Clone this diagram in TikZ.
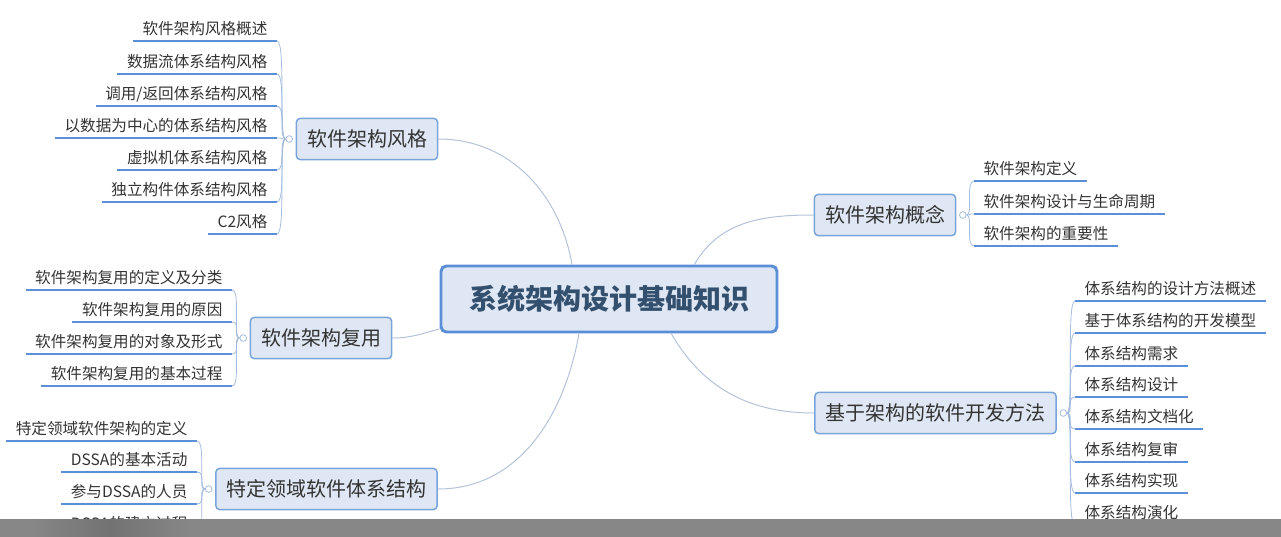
\documentclass[tikz,border=0pt]{standalone}
\usepackage{fontspec}
\setmainfont{Noto Sans CJK SC}
\usetikzlibrary{positioning}

\definecolor{boxfill}{HTML}{DEE7F3}
\definecolor{boxline}{HTML}{79A3DB}
\definecolor{rootline}{HTML}{5A8ED6}
\definecolor{ulinecol}{HTML}{5B8FD8}
\definecolor{twigcol}{HTML}{A5BCDD}
\definecolor{limbcol}{HTML}{B3C3DA}
\definecolor{inkcol}{HTML}{333333}
\definecolor{rootink}{HTML}{34506F}
\definecolor{barcol}{HTML}{878787}
\definecolor{bardark}{HTML}{737373}

\begin{document}
\begin{tikzpicture}[x=0.75pt,y=-0.75pt,
root/.style={draw=rootline,line width=2.2pt,fill=boxfill,rounded corners=4pt,text=rootink,font=\fontsize{21}{25}\selectfont\bfseries,minimum width=252pt,minimum height=49.5pt},
box/.style={draw=boxline,line width=1.1pt,fill=boxfill,rounded corners=3pt,text=inkcol,font=\fontsize{15}{18}\selectfont,inner xsep=8pt,minimum height=31pt},
knob/.style={circle,draw=twigcol,fill=white,line width=0.6pt,inner sep=0pt,minimum size=5pt},
uline/.style={draw=ulinecol,line width=2pt},
leaf/.style={text=inkcol,font=\fontsize{11.7}{14}\selectfont,inner xsep=7pt,inner ysep=3.5pt,text height=0.85em,text depth=0.15em,
  append after command={(\tikzlastnode.south west) edge[uline] (\tikzlastnode.south east)}},
leafl/.style={leaf,anchor=south east},leafr/.style={leaf,anchor=south west},
twig/.style={draw=twigcol,line width=0.6pt},limb/.style={draw=limbcol,line width=0.75pt}]
\useasboundingbox (0,0) rectangle (1281,536);
\node[root] (root) at (609,299) {系统架构设计基础知识};
\node[box] (style) at (367,139) {软件架构风格};
\node[box] (reuse) at (321,338) {软件架构复用};
\node[box] (dssa) at (326.5,489) {特定领域软件体系结构};
\node[box] (concept) at (885,215) {软件架构概念};
\node[box] (method) at (935.5,413) {基于架构的软件开发方法};
\node[knob,left=2pt of style] (styleknob) {};
\node[knob,left=2pt of reuse] (reuseknob) {};
\node[knob,left=2pt of dssa] (dssaknob) {};
\node[knob,right=2pt of concept] (conceptknob) {};
\node[knob,right=2pt of method] (methodknob) {};
% left side leaves
\node[leafl] (s1) at (277,41) {软件架构风格概述};
\node[leafl] (s2) at (277,74) {数据流体系结构风格};
\node[leafl] (s3) at (277,106) {调用/返回体系结构风格};
\node[leafl] (s4) at (277,138) {以数据为中心的体系结构风格};
\node[leafl] (s5) at (277,170) {虚拟机体系结构风格};
\node[leafl] (s6) at (277,202) {独立构件体系结构风格};
\node[leafl] (s7) at (277,234) {C2风格};
\node[leafl] (r1) at (232,290) {软件架构复用的定义及分类};
\node[leafl] (r2) at (232,322) {软件架构复用的原因};
\node[leafl] (r3) at (232,354) {软件架构复用的对象及形式};
\node[leafl] (r4) at (232,386) {软件架构复用的基本过程};
\node[leafl] (d1) at (197,441) {特定领域软件架构的定义};
\node[leafl] (d2) at (197,472) {DSSA的基本活动};
\node[leafl] (d3) at (197,504) {参与DSSA的人员};
\node[leafl] (d4) at (197,536) {DSSA的建立过程};
% right side leaves
\node[leafr] (c1) at (974,181) {软件架构定义};
\node[leafr] (c2) at (974,214) {软件架构设计与生命周期};
\node[leafr] (c3) at (974,246) {软件架构的重要性};
\node[leafr] (m1) at (1075,301) {体系结构的设计方法概述};
\node[leafr] (m2) at (1075,333) {基于体系结构的开发模型};
\node[leafr] (m3) at (1075,366) {体系结构需求};
\node[leafr] (m4) at (1075,397) {体系结构设计};
\node[leafr] (m5) at (1075,429) {体系结构文档化};
\node[leafr] (m6) at (1075,462) {体系结构复审};
\node[leafr] (m7) at (1075,493) {体系结构实现};
\node[leafr] (m8) at (1075,525) {体系结构演化};
\draw[limb] (root.137.5) to[out=100,in=0] (style.east);
\draw[limb] (root.190) to[out=195,in=0] (reuse.east);
\draw[limb] (root.229) to[out=-100,in=0] (dssa.east);
\draw[limb] (root.22) to[out=60,in=180] (concept.west);
\draw[limb] (root.-29) to[out=-60,in=180] (method.west);
\foreach \n in {s1,s2,s3,s4,s5,s6,s7} \draw[twig] (styleknob.west) .. controls +(-7,0) and +(9,0) .. (\n.south east);
\foreach \n in {r1,r2,r3,r4} \draw[twig] (reuseknob.west) .. controls +(-7,0) and +(9,0) .. (\n.south east);
\foreach \n in {d1,d2,d3,d4} \draw[twig] (dssaknob.west) .. controls +(-7,0) and +(9,0) .. (\n.south east);
\foreach \n in {c1,c2,c3} \draw[twig] (conceptknob.east) .. controls +(7,0) and +(-9,0) .. (\n.south west);
\foreach \n in {m1,m2,m3,m4,m5,m6,m7,m8} \draw[twig] (methodknob.east) .. controls +(7,0) and +(-9,0) .. (\n.south west);
% grey strip along the bottom edge
\fill[barcol] (-5,519) rectangle (1286,545);
\shade[left color=barcol,right color=barcol,middle color=bardark] (30,519) rectangle (190,545);
\end{tikzpicture}
\end{document}
